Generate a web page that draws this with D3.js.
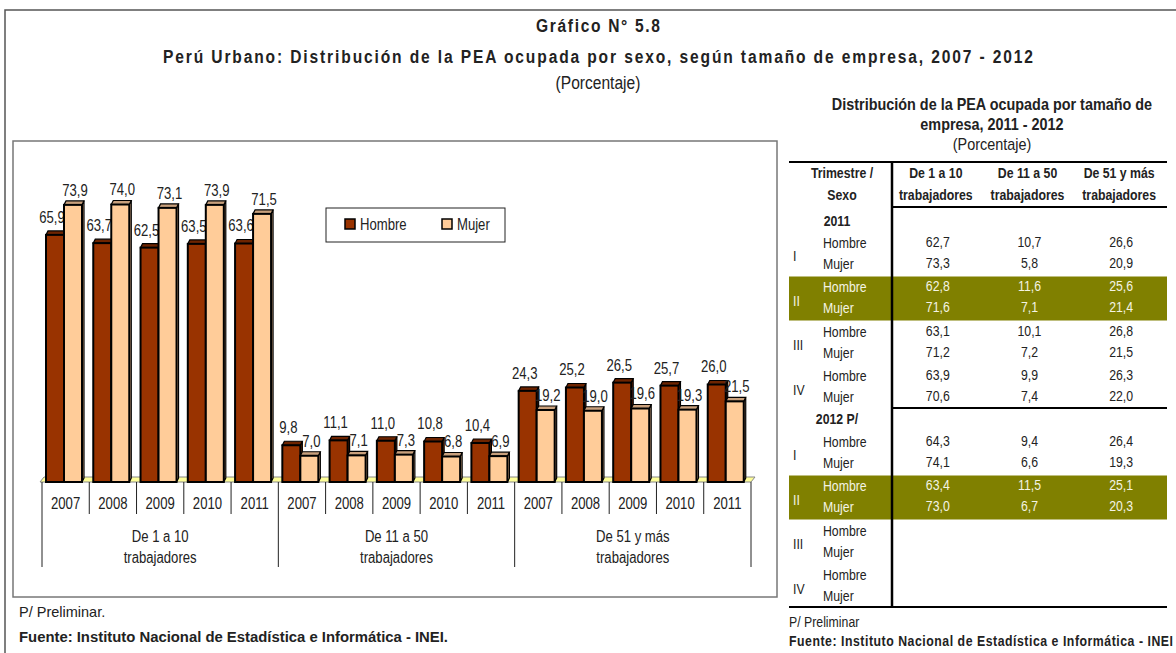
<!DOCTYPE html>
<meta charset="utf-8">
<style>
body { margin: 0; background: #fff; }
text { font-family: "Liberation Sans", Arial, sans-serif; fill: #222; }
.b { font-weight: bold; }
</style>
<svg width="1176" height="653"></svg>
<script src="https://cdn.jsdelivr.net/npm/d3@7"></script>
<script>
// chart data
var groups = [["De 1 a 10", "trabajadores"], ["De 11 a 50", "trabajadores"], ["De 51 y más", "trabajadores"]];
var years = ["2007", "2008", "2009", "2010", "2011"];
var series = ["Hombre", "Mujer"];
var hombre = [65.9, 63.7, 62.5, 63.5, 63.6, 9.8, 11.1, 11.0, 10.8, 10.4, 24.3, 25.2, 26.5, 25.7, 26.0];
var mujer = [73.9, 74.0, 73.1, 73.9, 71.5, 7.0, 7.1, 7.3, 6.8, 6.9, 19.2, 19.0, 19.6, 19.3, 21.5];

// table data
var tblCols = [["De 1 a 10", "trabajadores"], ["De 11 a 50", "trabajadores"], ["De 51 y más", "trabajadores"]];
var quarters = ["I", "II", "III", "IV"];
var hombre2011 = [[62.7, 10.7, 26.6], [62.8, 11.6, 25.6], [63.1, 10.1, 26.8], [63.9, 9.9, 26.3]];
var mujer2011 = [[73.3, 5.8, 20.9], [71.6, 7.1, 21.4], [71.2, 7.2, 21.5], [70.6, 7.4, 22.0]];
var hombre2012 = [[64.3, 9.4, 26.4], [63.4, 11.5, 25.1], null, null];
var mujer2012 = [[74.1, 6.6, 19.3], [73.0, 6.7, 20.3], null, null];

var colors = {Hombre: "#993300", Mujer: "#ffcc99"};
var caps = {Hombre: "#6e2400", Mujer: "#c9a07c"};
var fmt = function(v) { return v.toFixed(1).replace(".", ","); };
var NARROW = 0.82; // no Arial Narrow here, so squeeze Liberation Sans

var svg = d3.select("svg");

// outer frame
svg.append("path").attr("d", "M5,653V10H1176").attr("fill", "none").attr("stroke", "#555").attr("stroke-width", 1.5);

// titles
svg.append("text").attr("class", "b").attr("x", 598).attr("y", 32).attr("text-anchor", "middle")
   .attr("font-size", 19).attr("textLength", 124).attr("lengthAdjust", "spacing").text("Gráfico N° 5.8");
svg.append("text").attr("class", "b").attr("x", 598).attr("y", 63).attr("text-anchor", "middle")
   .attr("font-size", 19).attr("textLength", 870).attr("lengthAdjust", "spacing")
   .text("Perú Urbano: Distribución de la PEA ocupada por sexo, según tamaño de empresa, 2007 - 2012");
svg.append("text").attr("x", 598).attr("y", 89).attr("text-anchor", "middle").attr("font-size", 19).text("(Porcentaje)");

// chart box
svg.append("rect").attr("x", 13).attr("y", 141).attr("width", 764).attr("height", 456)
   .attr("fill", "#fff").attr("stroke", "#777").attr("stroke-width", 1.5);

var keys = [];
groups.forEach(function(g, gi) { years.forEach(function(y) { keys.push(gi + "|" + y); }); });
var rows = keys.map(function(k, i) { return {key: k, g: +k.split("|")[0], year: k.split("|")[1], Hombre: hombre[i], Mujer: mujer[i]}; });

var x = d3.scaleBand().domain(keys).range([42, 751]);
var xs = d3.scaleBand().domain(series).range([4, 40]);
var y = d3.scaleLinear().domain([0, 80]).range([482, 182]);
var dx = 2, dy = 4;

// floor
svg.append("path").attr("d", "M40,482L44,477L755,477L751,482Z").attr("fill", "#ffff99").attr("stroke", "#888").attr("stroke-width", 1);

var slot = svg.append("g").selectAll("g").data(rows).join("g")
   .attr("transform", function(d) { return "translate(" + x(d.key) + ",0)"; });

series.forEach(function(s) {
  var bx = xs(s), bw = xs.bandwidth();
  // side face
  slot.append("path")
     .attr("d", function(d) { var t = y(d[s]), b = y(0);
        return "M" + (bx + bw) + "," + t + "L" + (bx + bw + dx) + "," + (t - dy) + "L" + (bx + bw + dx) + "," + (b - dy) + "L" + (bx + bw) + "," + b + "Z"; })
     .attr("fill", caps[s]).attr("stroke", "#000").attr("stroke-width", 1.2);
  // top face
  slot.append("path")
     .attr("d", function(d) { var t = y(d[s]);
        return "M" + bx + "," + t + "L" + (bx + dx) + "," + (t - dy) + "L" + (bx + bw + dx) + "," + (t - dy) + "L" + (bx + bw) + "," + t + "Z"; })
     .attr("fill", caps[s]).attr("stroke", "#000").attr("stroke-width", 1.2);
  // front face
  slot.append("rect").attr("x", bx).attr("width", bw)
     .attr("y", function(d) { return y(d[s]); })
     .attr("height", function(d) { return y(0) - y(d[s]); })
     .attr("fill", colors[s]).attr("stroke", "#000").attr("stroke-width", 2);
  slot.append("text")
     .attr("x", bx + bw / 2 + (s === "Hombre" ? -3 : 2))
     .attr("y", function(d) { return y(d[s]) - (s === "Hombre" ? 12 : 9); })
     .attr("text-anchor", "middle").attr("font-size", 16)
     .text(function(d) { return fmt(d[s]); });
});

// category axis
var axis = svg.append("g").attr("stroke", "#222").attr("stroke-width", 1);
keys.forEach(function(k, i) {
  var big = i % years.length === 0;
  axis.append("line").attr("x1", x(k)).attr("x2", x(k)).attr("y1", 482).attr("y2", big ? 567 : 514);
});
axis.append("line").attr("x1", 751).attr("x2", 751).attr("y1", 482).attr("y2", 567);
slot.append("text").attr("x", x.bandwidth() / 2).attr("y", 509).attr("text-anchor", "middle").attr("font-size", 16)
   .text(function(d) { return d.year; });
groups.forEach(function(g, gi) {
  var cx = (x(gi + "|" + years[0]) + x(gi + "|" + years[years.length - 1]) + x.bandwidth()) / 2;
  g.forEach(function(line, li) {
    svg.append("text").attr("x", cx).attr("y", 542 + li * 21).attr("text-anchor", "middle").attr("font-size", 16).text(line);
  });
});

// legend
var leg = svg.append("g").attr("transform", "translate(326,208)");
leg.append("rect").attr("width", 179).attr("height", 34).attr("fill", "#fff").attr("stroke", "#222").attr("stroke-width", 1);
series.forEach(function(s, i) {
  var lg = leg.append("g").attr("transform", "translate(" + (19 + i * 97) + ",11)");
  lg.append("rect").attr("width", 10).attr("height", 10).attr("fill", colors[s]).attr("stroke", "#000").attr("stroke-width", 1.5);
  lg.append("text").attr("x", 15).attr("y", 11).attr("font-size", 16).text(s);
});

// left footer (wider face than the rest)
svg.append("text").attr("data-k", 1).attr("x", 19).attr("y", 617).attr("font-size", 14.5).text("P/ Preliminar.");
svg.append("text").attr("data-k", 1).attr("class", "b").attr("x", 19).attr("y", 642).attr("font-size", 14.5)
   .attr("textLength", 429).attr("lengthAdjust", "spacingAndGlyphs")
   .text("Fuente: Instituto Nacional de Estadística e Informática - INEI.");

// ---------- table ----------
svg.append("text").attr("data-k", 0.9).attr("class", "b").attr("x", 992).attr("y", 110).attr("text-anchor", "middle").attr("font-size", 16)
   .text("Distribución de la PEA ocupada por tamaño de");
svg.append("text").attr("data-k", 0.9).attr("class", "b").attr("x", 992).attr("y", 130).attr("text-anchor", "middle").attr("font-size", 16)
   .text("empresa, 2011 - 2012");
svg.append("text").attr("data-k", 0.9).attr("x", 992).attr("y", 150).attr("text-anchor", "middle").attr("font-size", 16).text("(Porcentaje)");

var cx = d3.scaleBand().domain(d3.range(tblCols.length)).range([892, 1167]);
var cc = function(i) { return cx(i) + cx.bandwidth() / 2; };

var blocks = [
  {label: "2011", lx: 837, ly: 226, start: 248, h: hombre2011, m: mujer2011},
  {label: "2012 P/", lx: 837, ly: 424, start: 447, h: hombre2012, m: mujer2012}
];
var tb = svg.append("g");
blocks.forEach(function(bk) {
  tb.append("text").attr("class", "b").attr("x", bk.lx).attr("y", bk.ly).attr("text-anchor", "middle").attr("font-size", 15).text(bk.label);
  quarters.forEach(function(q, qi) {
    var hy = bk.start + qi * 44.5, my = hy + 21;
    var band = qi === 1;
    var tc = band ? "#f4f4e4" : "#222";
    if (band) tb.append("rect").attr("x", 789).attr("y", hy - 16).attr("width", 378).attr("height", 44).attr("fill", "#808000");
    tb.append("text").attr("x", 793).attr("y", (hy + my) / 2 + 3).attr("font-size", 15).style("fill", tc).text(q);
    tb.append("text").attr("x", 823).attr("y", hy).attr("font-size", 15).style("fill", tc).text("Hombre");
    tb.append("text").attr("x", 823).attr("y", my).attr("font-size", 15).style("fill", tc).text("Mujer");
    [[bk.h[qi], hy], [bk.m[qi], my]].forEach(function(p) {
      if (!p[0]) return;
      p[0].forEach(function(v, ci) {
        tb.append("text").attr("x", cc(ci)).attr("y", p[1] - 1).attr("text-anchor", "middle").attr("font-size", 15).style("fill", tc).text(fmt(v));
      });
    });
  });
});

// table header
svg.append("text").attr("class", "b").attr("x", 842).attr("y", 178).attr("text-anchor", "middle").attr("font-size", 15).text("Trimestre /");
svg.append("text").attr("class", "b").attr("x", 842).attr("y", 200).attr("text-anchor", "middle").attr("font-size", 15).text("Sexo");
tblCols.forEach(function(c, ci) {
  c.forEach(function(line, li) {
    svg.append("text").attr("class", "b").attr("x", cc(ci) - 2).attr("y", 178 + li * 22).attr("text-anchor", "middle").attr("font-size", 15).text(line);
  });
});

// table rules
var rules = svg.append("g").attr("stroke", "#000");
rules.append("line").attr("x1", 789).attr("x2", 1167).attr("y1", 162).attr("y2", 162).attr("stroke-width", 2);
rules.append("line").attr("x1", 892).attr("x2", 892).attr("y1", 162).attr("y2", 607).attr("stroke-width", 2.5);
rules.append("line").attr("x1", 892).attr("x2", 1167).attr("y1", 207).attr("y2", 207).attr("stroke-width", 2);
rules.append("line").attr("x1", 892).attr("x2", 1167).attr("y1", 408).attr("y2", 408).attr("stroke-width", 2);
rules.append("line").attr("x1", 789).attr("x2", 1167).attr("y1", 607).attr("y2", 607).attr("stroke-width", 2);

// right footer
svg.append("text").attr("x", 789).attr("y", 627).attr("font-size", 15).text("P/ Preliminar");
svg.append("text").attr("class", "b").attr("x", 789).attr("y", 646).attr("font-size", 15)
   .attr("textLength", 384).attr("lengthAdjust", "spacing")
   .text("Fuente: Instituto Nacional de Estadística e Informática - INEI");

// squeeze every text horizontally to mimic the narrow face
svg.selectAll("text").each(function() {
  var t = d3.select(this);
  var k = t.attr("data-k") ? +t.attr("data-k") : NARROW;
  t.attr("x", +t.attr("x") / k).attr("transform", "scale(" + k + ",1)");
  if (t.attr("textLength")) t.attr("textLength", +t.attr("textLength") / k);
});
</script>
